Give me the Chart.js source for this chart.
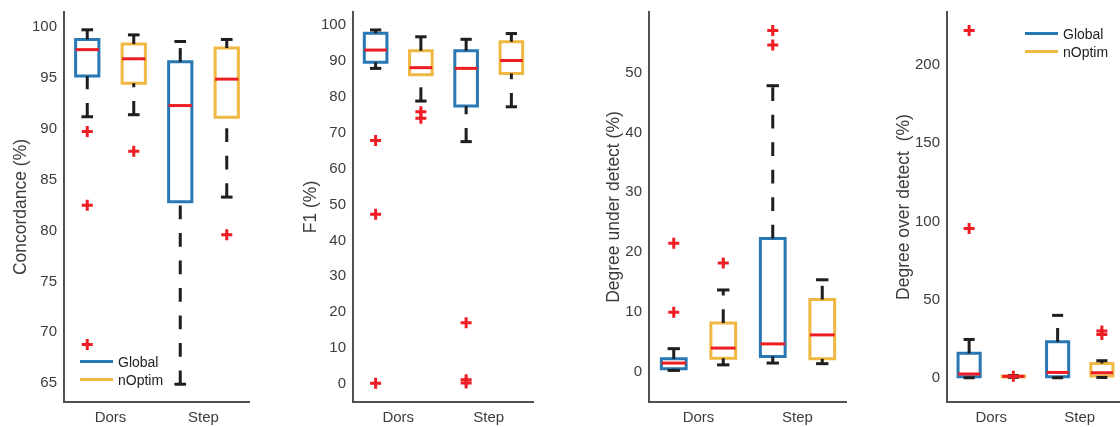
<!DOCTYPE html>
<html>
<head>
<meta charset="utf-8">
<script src="https://cdn.jsdelivr.net/npm/chart.js@4.4.0/dist/chart.umd.min.js"></script>
<style>
  html, body { margin:0; padding:0; background:#fff; overflow:hidden; width:1120px; height:427px; }
  canvas { position:absolute; top:0; }
  .legend { position:absolute; font-family:'Liberation Sans', Arial, sans-serif; font-size:14px; color:#222; }
  .legend div { display:flex; align-items:center; height:17.7px; white-space:nowrap; }
  .legend .sw { display:inline-block; width:33px; height:3px; margin-right:5px; }
</style>
</head>
<body>
<canvas id="conc" width="240" height="427" style="left:10px"></canvas>
<canvas id="f1" width="234" height="427" style="left:300px"></canvas>
<canvas id="under" width="244" height="427" style="left:603px"></canvas>
<canvas id="over" width="231" height="427" style="left:893px"></canvas>
<div class="legend" id="legend1" style="left:80px; top:353px"></div>
<div class="legend" id="legend4" style="left:1025px; top:25px"></div>
<script>
const groups = ['Dors', 'Step'];
const seriesNames = ['Global', 'nOptim'];
const seriesColors = ['#2878b4', '#efb842'];

// per group: [lower whisker, q1, median, q3, upper whisker]
const concGlobal = [[91.2, 95.2, 97.8, 98.8, 99.75], [64.9, 82.85, 92.3, 96.6, 98.6]];
const concNOptim = [[91.4, 94.5, 96.9, 98.35, 99.25], [83.3, 91.15, 94.9, 97.95, 98.8]];
const concGlobalOut = [[89.75, 82.5, 68.8], []];
const concNOptimOut = [[87.8], [79.6]];
const concTicks = [65, 70, 75, 80, 85, 90, 95, 100];

const f1Global = [[87.9, 89.6, 93.0, 97.7, 98.6], [67.5, 77.4, 87.9, 92.8, 96.0]];
const f1NOptim = [[78.8, 86.1, 88.1, 92.8, 96.7], [77.2, 86.5, 90.1, 95.3, 97.6]];
const f1GlobalOut = [[67.8, 47.3, 0.2], [17.1, 1.2, 0.3]];
const f1NOptimOut = [[75.8, 74.0], []];
const f1Ticks = [0, 10, 20, 30, 40, 50, 60, 70, 80, 90, 100];

const underGlobal = [[0.27, 0.55, 1.5, 2.2, 3.9], [1.5, 2.6, 4.7, 22.3, 47.8]];
const underNOptim = [[1.2, 2.3, 4.0, 8.2, 13.7], [1.4, 2.2, 6.2, 12.1, 15.4]];
const underGlobalOut = [[21.5, 10.0], [57.0, 54.6]];
const underNOptimOut = [[18.2], []];
const underTicks = [0, 10, 20, 30, 40, 50];

const overGlobal = [[0, 0.6, 2.4, 15.6, 24.5], [0, 0.6, 3.4, 23.0, 39.9]];
const overNOptim = [[0.3, 0.5, 0.9, 1.2, 1.4], [0.2, 1.1, 3.2, 9.2, 10.9]];
const overGlobalOut = [[222, 95.5], []];
const overNOptimOut = [[0.9], [29.9, 27.7]];
const overTicks = [0, 50, 100, 150, 200];

const RED = '#ee1d24';
const BLACK = '#1e1e1e';
const TEXT = '#3c3c3c';
const AXIS = '#505050';
const boxWidth = 0.25;
const FONT = "'Liberation Sans', Arial, sans-serif";

function boxDatasets(stats, outs, color, offset) {
  const ds = [];
  stats.forEach((s, g) => {
    const [lo, q1, med, q3, hi] = s;
    const c = g + 1 + offset;
    const l = c - boxWidth / 2, r = c + boxWidth / 2;
    const cl = c - boxWidth / 4, cr = c + boxWidth / 4;
    const line = { showLine: true, pointRadius: 0, borderWidth: 3, fill: false };
    ds.push({ ...line, data: [{x:l,y:q1},{x:l,y:q3},{x:r,y:q3},{x:r,y:q1},{x:l,y:q1}],
      borderColor: color, borderCapStyle: 'square', borderJoinStyle: 'miter', order: 4 });
    ds.push({ ...line, data: [{x:c,y:lo},{x:c,y:q1}], borderColor: BLACK, borderDash: [13.75, 13.75], order: 3 });
    ds.push({ ...line, data: [{x:c,y:q3},{x:c,y:hi}], borderColor: BLACK, borderDash: [13.75, 13.75], order: 3 });
    ds.push({ ...line, data: [{x:cl,y:lo},{x:cr,y:lo}], borderColor: BLACK, order: 2 });
    ds.push({ ...line, data: [{x:cl,y:hi},{x:cr,y:hi}], borderColor: BLACK, order: 2 });
    ds.push({ ...line, data: [{x:l,y:med},{x:r,y:med}], borderColor: RED, order: 1 });
    ds.push({ showLine: false, data: outs[g].map(v => ({x:c, y:v})), pointStyle: 'cross',
      pointRadius: 5.5, pointBorderWidth: 3, pointBorderColor: RED, pointBackgroundColor: RED, order: 0 });
  });
  return ds;
}

function noPadding(s) {
  s.paddingTop = 0; s.paddingBottom = 0; s.paddingLeft = 0; s.paddingRight = 0;
}

function makePanel(id, yTitle, yMin, yMax, ticks, globalStats, globalOut, nOptimStats, nOptimOut, axisW) {
  const datasets = boxDatasets(globalStats, globalOut, seriesColors[0], -0.25)
    .concat(boxDatasets(nOptimStats, nOptimOut, seriesColors[1], 0.25));
  new Chart(document.getElementById(id), {
    type: 'scatter',
    data: { datasets },
    options: {
      responsive: false,
      animation: false,
      events: [],
      devicePixelRatio: 1,
      layout: { autoPadding: false, padding: { top: 12, left: 0, right: 0, bottom: 0 } },
      plugins: { legend: { display: false }, tooltip: { enabled: false } },
      scales: {
        x: {
          type: 'linear', min: 0.5, max: 2.5,
          grid: { display: false, drawTicks: false },
          border: { display: true, color: AXIS, width: 2 },
          afterBuildTicks: s => { s.ticks = groups.map((g, i) => ({ value: i + 1 })); },
          afterFit: s => { s.height = 25; noPadding(s); },
          ticks: { padding: 7, color: TEXT, font: { family: FONT, size: 15 }, callback: v => groups[v - 1] }
        },
        y: {
          min: yMin, max: yMax,
          grid: { display: false, drawTicks: false },
          border: { display: true, color: AXIS, width: 2 },
          afterBuildTicks: s => { s.ticks = ticks.map(v => ({ value: v })); },
          afterFit: s => { s.width = axisW; noPadding(s); },
          ticks: { padding: 7, color: TEXT, font: { family: FONT, size: 15 } },
          title: { display: true, text: yTitle, color: TEXT, padding: { top: 2, bottom: 0 },
                   font: { family: FONT, size: 17.5, lineHeight: 1 } }
        }
      }
    }
  });
}

makePanel('conc', 'Concordance (%)', 63.15, 101.5, concTicks, concGlobal, concGlobalOut, concNOptim, concNOptimOut, 54);
makePanel('f1', 'F1 (%)', -5, 103.6, f1Ticks, f1Global, f1GlobalOut, f1NOptim, f1NOptimOut, 53);
makePanel('under', 'Degree under detect (%)', -5, 60.1, underTicks, underGlobal, underGlobalOut, underNOptim, underNOptimOut, 46);
makePanel('over', 'Degree over detect  (%)', -15.5, 233.9, overTicks, overGlobal, overGlobalOut, overNOptim, overNOptimOut, 54);

['legend1', 'legend4'].forEach(id => {
  const el = document.getElementById(id);
  seriesNames.forEach((name, i) => {
    const row = document.createElement('div');
    row.innerHTML = `<span class="sw" style="background:${seriesColors[i]}"></span>${name}`;
    el.appendChild(row);
  });
});
</script>
</body>
</html>
